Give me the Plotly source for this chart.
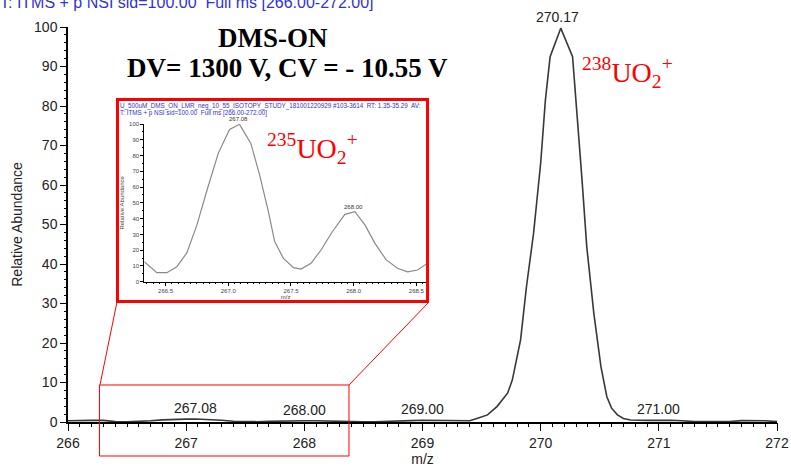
import plotly.graph_objects as go

# ---------------- data ----------------
main_mz = [266.00, 266.10, 266.20, 266.30, 266.40, 266.50, 266.60, 266.70, 266.80, 266.90,
           267.00, 267.08, 267.20, 267.30, 267.40, 267.50, 267.60, 267.70, 267.80, 267.90,
           268.00, 268.10, 268.20, 268.30, 268.40, 268.50, 268.60, 268.70, 268.80, 268.90,
           269.00, 269.10, 269.20, 269.30, 269.40, 269.46, 269.55, 269.63, 269.72, 269.76,
           269.83, 269.88, 269.94, 270.00, 270.04, 270.08, 270.17, 270.27, 270.31, 270.35,
           270.39, 270.45, 270.51, 270.56, 270.60, 270.65, 270.70, 270.76, 270.90, 271.00,
           271.10, 271.20, 271.30, 271.40, 271.50, 271.60, 271.70, 271.80, 271.90, 272.00]
main_int = [0.3, 0.4, 0.4, 0.4, 0.1, 0.05, 0.1, 0.3, 0.55, 0.7,
            0.72, 0.75, 0.65, 0.45, 0.2, 0.07, 0.08, 0.15, 0.25, 0.32,
            0.33, 0.3, 0.2, 0.12, 0.06, 0.05, 0.05, 0.1, 0.2, 0.35,
            0.45, 0.4, 0.25, 0.2, 0.3, 0.9, 1.8, 3.9, 7.3, 10.6,
            20.8, 34.3, 47.8, 65.5, 81.5, 92.5, 99.7, 92.5, 77.3, 61.3,
            44.4, 27.5, 14.0, 6.4, 3.5, 1.8, 0.9, 0.5, 0.4, 0.5,
            0.45, 0.3, 0.1, 0.1, 0.05, 0.1, 0.35, 0.35, 0.3, 0.1]

inset_mz = [266.33, 266.43, 266.51, 266.59, 266.67, 266.75, 266.83, 266.92, 267.01, 267.09,
            267.18, 267.25, 267.32, 267.37, 267.44, 267.52, 267.58, 267.66, 267.74, 267.83,
            267.93, 268.01, 268.09, 268.17, 268.26, 268.35, 268.43, 268.51, 268.59]
inset_int = [12.7, 5.7, 5.7, 9.5, 18.4, 36.0, 58.0, 81.4, 96.6, 99.8,
             87.7, 67.7, 44.4, 25.4, 14.8, 8.9, 8.0, 11.7, 20.1, 31.7,
             42.7, 44.4, 36.0, 24.3, 13.8, 8.5, 6.3, 7.4, 11.7]

main_label_mz = [267.08, 268.00, 269.00, 270.17, 271.00]
main_label_int = [0.75, 0.33, 0.45, 99.7, 0.5]
inset_label_mz = [267.08, 268.00]
inset_label_int = [99.8, 44.4]

header_text = "T: ITMS + p NSI sid=100.00  Full ms [266.00-272.00]"
inset_header1 = "U_500uM_DMS_ON_LMR_neg_10_55_ISOTOPY_STUDY_181001220929 #103-3614  RT: 1.35-35.29  AV:"
inset_header2 = "T: ITMS + p NSI sid=100.00  Full ms [266.00-272.00]"
title1 = "DMS-ON"
title2 = "DV= 1300 V, CV = - 10.55 V"
ion_main = "<sup>238</sup>UO<sub>2</sub><sup>+</sup>"
ion_inset = "<sup>235</sup>UO<sub>2</sub><sup>+</sup>"

# ---------------- figure ----------------
SANS = "Liberation Sans, Arial, sans-serif"
SERIF = "Liberation Serif, Times New Roman, serif"
RED = "#ff0000"
BLUE = "#3333cc"

fig = go.Figure()
fig.add_trace(go.Scatter(x=main_mz, y=main_int, mode="lines",
                         line=dict(color="#383838", width=1.6), xaxis="x", yaxis="y",
                         hoverinfo="skip"))
fig.add_trace(go.Scatter(x=inset_mz, y=inset_int, mode="lines",
                         line=dict(color="#8a8a8a", width=1.2), xaxis="x2", yaxis="y2",
                         hoverinfo="skip"))
# empty traces so the minor-tick overlay axes get drawn
fig.add_trace(go.Scatter(x=[], y=[], xaxis="x3", yaxis="y3", hoverinfo="skip"))
fig.add_trace(go.Scatter(x=[], y=[], xaxis="x4", yaxis="y4", hoverinfo="skip"))

ann = []
for mz, v in zip(main_label_mz, main_label_int):
    ann.append(dict(x=mz, y=v, xref="x", yref="y", text=f"{mz:.2f}", showarrow=False,
                    yanchor="bottom", yshift=1, xshift=-3 if v > 50 else 0,
                    font=dict(family=SANS, size=14, color="#222222")))
for mz, v in zip(inset_label_mz, inset_label_int):
    ann.append(dict(x=mz, y=v, xref="x2", yref="y2", text=f"{mz:.2f}", showarrow=False,
                    yanchor="bottom", yshift=0,
                    font=dict(family=SANS, size=6, color="#333333")))

ann += [
    dict(x=-0.0987, y=1.062, xref="paper", yref="paper", text=header_text, showarrow=False,
         xanchor="left", yanchor="middle", font=dict(family=SANS, size=16, color=BLUE)),
    dict(x=0.0705, y=0.8008, xref="paper", yref="paper", text=inset_header1, showarrow=False,
         xanchor="left", yanchor="middle", font=dict(family=SANS, size=6.3, color=BLUE)),
    dict(x=0.0705, y=0.7815, xref="paper", yref="paper", text=inset_header2, showarrow=False,
         xanchor="left", yanchor="middle", font=dict(family=SANS, size=6.3, color=BLUE)),
    dict(x=0.2891, y=0.9734, xref="paper", yref="paper", text=f"<b>{title1}</b>", showarrow=False,
         xanchor="center", yanchor="middle", font=dict(family=SERIF, size=27, color="black")),
    dict(x=0.3096, y=0.8962, xref="paper", yref="paper", text=f"<b>{title2}</b>", showarrow=False,
         xanchor="center", yanchor="middle", font=dict(family=SERIF, size=27, color="black")),
    dict(x=0.722, y=0.886, xref="paper", yref="paper", text=ion_main, showarrow=False,
         xanchor="left", yanchor="middle", font=dict(family=SERIF, size=28, color=RED)),
    dict(x=0.2779, y=0.6929, xref="paper", yref="paper", text=ion_inset, showarrow=False,
         xanchor="left", yanchor="middle", font=dict(family=SERIF, size=28, color=RED)),
]

shapes = [
    dict(type="rect", xref="paper", yref="paper", x0=0.0698, x1=0.5071, y0=0.3051, y1=0.8165,
         line=dict(color=RED, width=3), fillcolor="rgba(0,0,0,0)", layer="above"),
    dict(type="rect", xref="paper", yref="paper", x0=0.0444, x1=0.3963, y0=-0.0861, y1=0.0937,
         line=dict(color=RED, width=1), fillcolor="rgba(0,0,0,0)", layer="above"),
    dict(type="line", xref="paper", yref="paper", x0=0.0451, y0=0.0937, x1=0.0691, y1=0.3038,
         line=dict(color=RED, width=1)),
    dict(type="line", xref="paper", yref="paper", x0=0.3963, y0=0.0937, x1=0.5092, y1=0.3038,
         line=dict(color=RED, width=1)),
]

axis_common = dict(showgrid=False, zeroline=False, showline=True, linecolor="black",
                   ticks="outside", tickcolor="black", automargin=False)
minor_common = dict(showgrid=False, zeroline=False, showline=False, ticks="outside",
                    tickcolor="black", showticklabels=False, automargin=False,
                    tickmode="linear", fixedrange=True)

fig.update_layout(
    template="none",
    width=791, height=468,
    margin=dict(l=68, r=14, t=27, b=46, pad=0),
    paper_bgcolor="white", plot_bgcolor="rgba(0,0,0,0)",
    showlegend=False,
    xaxis=dict(**axis_common, domain=[0, 1], range=[266, 272],
               tickmode="linear", tick0=266, dtick=1, tickformat="d",
               ticklen=7, tickwidth=1, linewidth=1.5,
               tickfont=dict(family=SANS, size=14, color="#222222"),
               title=dict(text="m/z", font=dict(family=SANS, size=14, color="#222222"), standoff=4)),
    yaxis=dict(**axis_common, domain=[0, 1], range=[0, 100],
               tickmode="linear", tick0=0, dtick=10,
               ticklen=6, tickwidth=1, linewidth=1.5,
               tickfont=dict(family=SANS, size=14, color="#222222"),
               title=dict(text="Relative Abundance", font=dict(family=SANS, size=14, color="#222222"),
                          standoff=8)),
    xaxis3=dict(**minor_common, overlaying="x", anchor="y", range=[266, 272],
                tick0=266, dtick=0.1, ticklen=4, tickwidth=1),
    yaxis3=dict(**minor_common, overlaying="y", anchor="x", side="left", range=[0, 100],
                tick0=0, dtick=2, ticklen=3, tickwidth=1),
    xaxis2=dict(**axis_common, anchor="y2", domain=[0.1076, 0.5063], range=[266.33, 268.585],
                tickmode="linear", tick0=266.5, dtick=0.5, tickformat=".1f",
                ticklen=3, tickwidth=0.8, linewidth=1,
                tickfont=dict(family=SANS, size=6, color="#444444"),
                title=dict(text="m/z", font=dict(family=SANS, size=6, color="#444444"), standoff=1)),
    yaxis2=dict(**axis_common, anchor="x2", domain=[0.3552, 0.7544], range=[0, 100],
                tickmode="linear", tick0=0, dtick=10,
                ticklen=3, tickwidth=0.8, linewidth=1,
                tickfont=dict(family=SANS, size=6, color="#444444"),
                title=dict(text="Relative Abundance", font=dict(family=SANS, size=6, color="#444444"),
                           standoff=3)),
    xaxis4=dict(**minor_common, overlaying="x2", anchor="y2", range=[266.33, 268.585],
                tick0=266.5, dtick=0.05, ticklen=1.5, tickwidth=0.6),
    yaxis4=dict(**minor_common, overlaying="y2", anchor="x2", side="left", range=[0, 100],
                tick0=0, dtick=5, ticklen=1.5, tickwidth=0.6),
    annotations=ann,
    shapes=shapes,
)

fig.write_html("out.html")
